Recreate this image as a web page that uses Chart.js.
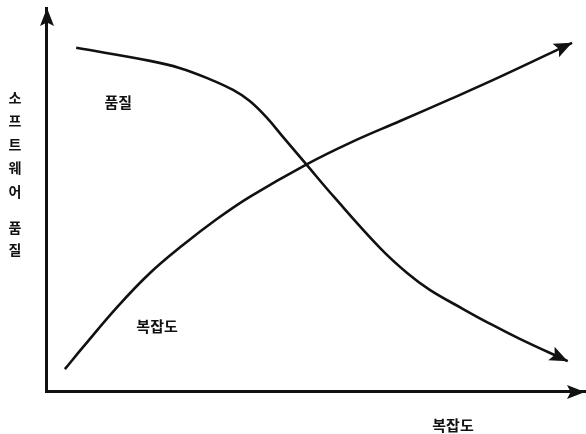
<!DOCTYPE html>
<html lang="ko">
<head>
<meta charset="utf-8">
<script src="https://cdn.jsdelivr.net/npm/chart.js@4.4.1/dist/chart.umd.min.js"></script>
<style>
    html, body { margin: 0; padding: 0; background: #fff; }
    #chart { display: block; }
</style>
</head>
<body>
<canvas id="chart" width="586" height="434"></canvas>
<script>
// x: complexity (0..100), y: software quality (0..100)
const qualityX = [5.6, 19.3, 24.9, 29.9, 34.7, 37.8, 41.0, 44.0, 48.1, 53.6, 62.0, 67.0, 71.2, 77.4, 81.8, 87.9, 96.8];
const qualityY = [89.6, 86.2, 84.3, 81.7, 78.6, 75.7, 71.3, 66.3, 59.5, 50.4, 37.3, 30.8, 26.4, 21.4, 18.0, 13.6, 7.8];

const complexityX = [3.5, 6.9, 13.2, 19.3, 25.4, 31.7, 37.8, 48.1, 56.4, 65.7, 75.0, 84.2, 97.6];
const complexityY = [5.7, 11.5, 21.9, 30.8, 38.1, 44.9, 50.7, 59.0, 64.8, 70.5, 76.2, 82.0, 90.9];

const seriesLabels = ['품질', '복잡도'];
const xTitle = '복잡도';
const yTitle = ['소', '프', '트', '웨', '어', '', '품', '질'];

const INK = '#111';
const KFONT = '"Noto Sans CJK KR", "Noto Sans", sans-serif';

function toPoints(xs, ys) {
    return xs.map((x, i) => ({ x, y: ys[i] }));
}

function arrowHead(ctx, tipX, tipY, fromX, fromY, len, half) {
    const a = Math.atan2(tipY - fromY, tipX - fromX);
    ctx.save();
    ctx.translate(tipX, tipY);
    ctx.rotate(a);
    ctx.beginPath();
    ctx.moveTo(0, 0);
    ctx.lineTo(-len, -half);
    ctx.lineTo(-len * 0.8, 0);
    ctx.lineTo(-len, half);
    ctx.closePath();
    ctx.fillStyle = INK;
    ctx.fill();
    ctx.restore();
}

const arrowsAndText = {
    id: 'arrowsAndText',
    afterDatasetsDraw(chart) {
        const { ctx, chartArea, scales } = chart;

        // curve arrowheads, pointing along the last segment
        chart.data.datasets.forEach((ds, i) => {
            const pts = chart.getDatasetMeta(i).data;
            const last = pts[pts.length - 1];
            const prev = pts[pts.length - 2];
            const useCp = Number.isFinite(last.cp1x) && Math.hypot(last.cp1x - last.x, last.cp1y - last.y) > 1;
            arrowHead(ctx, last.x, last.y, useCp ? last.cp1x : prev.x, useCp ? last.cp1y : prev.y, 18, 7.5);
        });

        // axis arrowheads
        const ox = scales.x.getPixelForValue(0);
        const oy = scales.y.getPixelForValue(0);
        arrowHead(ctx, ox + 1, chartArea.top, ox + 1, oy, 18, 7);
        arrowHead(ctx, chartArea.right, oy + 1, ox, oy + 1, 18, 7);
    },
    afterDraw(chart) {
        const { ctx, scales } = chart;
        ctx.save();
        ctx.fillStyle = INK;
        ctx.textAlign = 'center';
        ctx.textBaseline = 'middle';

        // curve labels
        ctx.font = 'bold 15px ' + KFONT;
        ctx.fillText(seriesLabels[0], scales.x.getPixelForValue(13.4), scales.y.getPixelForValue(75.5));
        ctx.fillText(seriesLabels[1], scales.x.getPixelForValue(20.6), scales.y.getPixelForValue(17.0));

        // x axis title
        ctx.fillText(xTitle, 453, 425);

        // y axis title, stacked vertically
        ctx.font = 'bold 14px ' + KFONT;
        const ySteps = [98, 121, 145, 168, 192, 210, 228, 250];
        yTitle.forEach((ch, i) => {
            if (ch) ctx.fillText(ch, 15, ySteps[i]);
        });
        ctx.restore();
    },
};

const hiddenAxis = (fit) => ({
    type: 'linear',
    min: 0,
    max: 100,
    ticks: { display: false },
    grid: { display: false, drawTicks: false },
    border: { display: true, color: INK, width: 3 },
    afterFit: fit,
});

new Chart(document.getElementById('chart'), {
    type: 'line',
    data: {
        datasets: [
            {
                label: seriesLabels[0],
                data: toPoints(qualityX, qualityY),
                borderColor: INK,
                borderWidth: 2.6,
                pointRadius: 0,
                tension: 0.4,
                clip: false,
            },
            {
                label: seriesLabels[1],
                data: toPoints(complexityX, complexityY),
                borderColor: INK,
                borderWidth: 2.6,
                pointRadius: 0,
                tension: 0.4,
                clip: false,
            },
        ],
    },
    options: {
        responsive: false,
        animation: false,
        layout: { padding: { left: 46, top: 8, right: 1, bottom: 43 } },
        plugins: {
            legend: { display: false },
            tooltip: { enabled: false },
        },
        scales: {
            x: hiddenAxis((s) => { s.height = 0; }),
            y: hiddenAxis((s) => { s.width = 0; }),
        },
    },
    plugins: [arrowsAndText],
});
</script>
</body>
</html>
